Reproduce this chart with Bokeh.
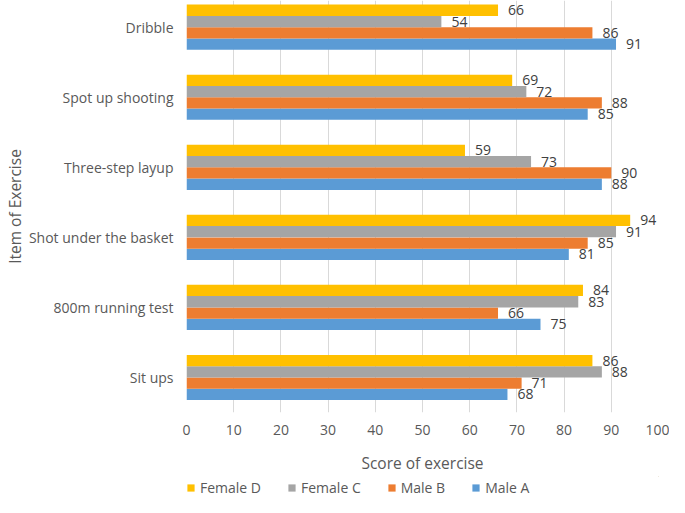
from bokeh.plotting import figure
from bokeh.models import (Range1d, FixedTicker, ColumnDataSource, LabelSet,
                          Legend, LegendItem)
from bokeh.layouts import column
from bokeh.core.properties import value
from bokeh.embed import file_html
from bokeh.resources import INLINE

categories = ["Sit ups", "800m running test", "Shot under the basket",
              "Three-step layup", "Spot up shooting", "Dribble"]
series = ["Male A", "Male B", "Female C", "Female D"]
male_a = [68, 75, 81, 88, 85, 91]
male_b = [71, 66, 85, 90, 88, 86]
female_c = [88, 83, 91, 73, 72, 54]
female_d = [86, 84, 94, 59, 69, 66]
x_ticks = [0, 10, 20, 30, 40, 50, 60, 70, 80, 90, 100]

values = [male_a, male_b, female_c, female_d]
colors = ["#5B9BD5", "#ED7D31", "#A5A5A5", "#FFC000"]
offsets = [-0.242, -0.081, 0.081, 0.242]
FONT = "Open Sans"
TXT = "#595959"

p = figure(width=669, height=476, output_backend="svg", toolbar_location=None,
           x_range=Range1d(0, 100), y_range=Range1d(-0.5, 5.381),
           min_border_left=179, min_border_right=11, min_border_top=0,
           min_border_bottom=0)
p.outline_line_color = None
p.background_fill_color = "white"
p.border_fill_color = "white"

for vals, col, off, name in zip(values, colors, offsets, series):
    src = ColumnDataSource(dict(y=[i + off for i in range(len(categories))],
                                x=vals, lab=[str(v) for v in vals]))
    p.hbar(y="y", right="x", left=0, height=0.161, source=src,
           fill_color=col, line_color=None)
    lbl = LabelSet(x="x", y="y", text="lab", source=src, x_offset=10,
                   text_align="left", text_baseline="middle",
                   text_font=value(FONT), text_font_size="14px",
                   text_color="#404040")
    p.add_layout(lbl)

# axes
p.xaxis.ticker = FixedTicker(ticks=x_ticks)
p.xaxis.axis_label = "Score of exercise"
p.yaxis.axis_label = "Item of Exercise"
p.yaxis.ticker = FixedTicker(ticks=list(range(len(categories))))
p.yaxis.major_label_overrides = {i: c for i, c in enumerate(categories)}
for ax in (p.xaxis[0], p.yaxis[0]):
    ax.axis_line_color = None
    ax.major_tick_line_color = None
    ax.minor_tick_line_color = None
    ax.major_tick_out = 0
    ax.major_tick_in = 0
    ax.major_label_text_font = FONT
    ax.major_label_text_font_size = "14px"
    ax.major_label_text_color = TXT
    ax.axis_label_text_font = FONT
    ax.axis_label_text_font_size = "15.5px"
    ax.axis_label_text_font_style = "normal"
    ax.axis_label_text_color = TXT
p.xaxis.major_label_standoff = 12
p.xaxis.axis_label_standoff = 14
p.yaxis.major_label_standoff = 13
p.yaxis.axis_label_standoff = 0

p.xgrid.grid_line_color = "#D9D9D9"
p.xgrid.grid_line_width = 1
p.ygrid.grid_line_color = None

# legend strip
lg = figure(width=669, height=21, output_backend="svg", toolbar_location=None,
            x_range=Range1d(0, 1), y_range=Range1d(0, 1),
            x_axis_location=None, y_axis_location=None,
            min_border_left=168, min_border_right=0, min_border_top=0,
            min_border_bottom=0)
lg.grid.visible = False
lg.outline_line_color = None
items = []
for col, name in zip(colors[::-1], series[::-1]):
    r = lg.hbar(y=[5], right=[5], left=4, height=0.1,
                fill_color=col, line_color=None)
    items.append(LegendItem(label=name, renderers=[r]))
legend = Legend(items=items, orientation="horizontal", location="bottom_left",
                glyph_width=9, glyph_height=9, spacing=26, padding=0,
                margin=0, label_standoff=5, border_line_color=None,
                background_fill_alpha=0, label_height=18,
                label_text_font=FONT, label_text_font_size="14px",
                label_text_color=TXT)
lg.add_layout(legend, "center")

open("out.html", "w").write(file_html(column(p, lg), INLINE))
